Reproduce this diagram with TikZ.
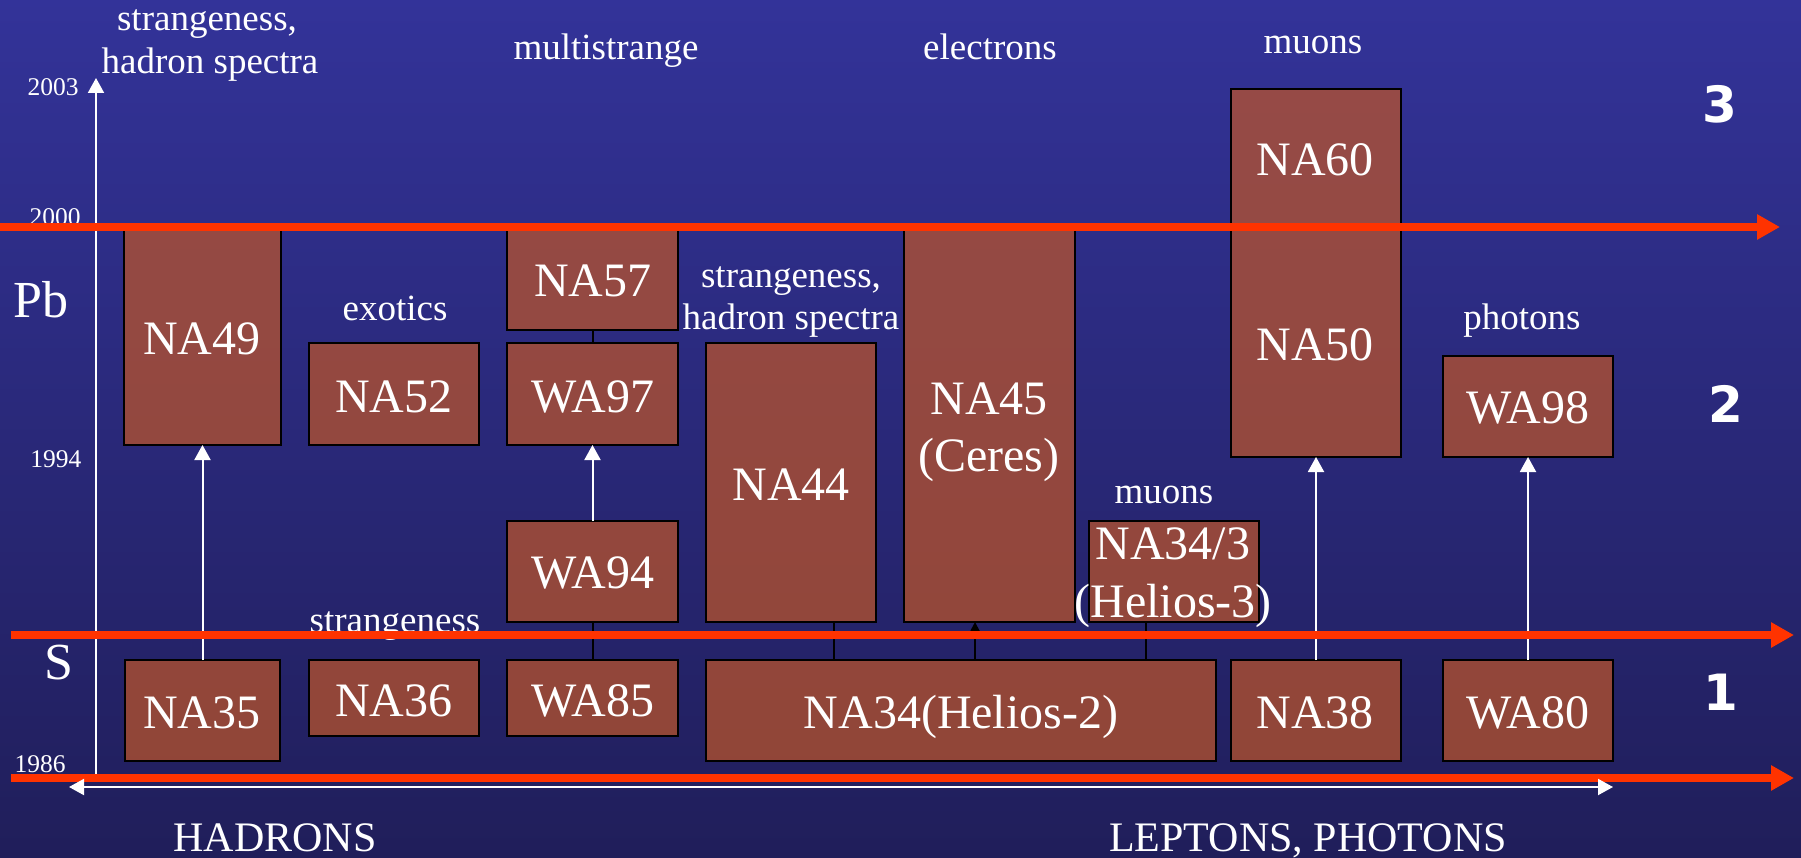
\documentclass[tikz,border=0pt]{standalone}
\usepackage{fontspec}
\setmainfont{Liberation Serif}
\newfontfamily\numfont{DejaVu Sans}
\usetikzlibrary{arrows.meta}
\definecolor{bgtop}{RGB}{51,51,153}
\definecolor{bgbot}{RGB}{32,30,90}
\definecolor{boxred}{RGB}{193,86,39}
\definecolor{redline}{RGB}{255,51,0}
\begin{document}
\begin{tikzpicture}[x=1pt,y=-1pt,
  expbox/.style={draw=black, line width=2pt, fill=boxred, fill opacity=0.7, inner sep=0pt, outer sep=0pt, anchor=north west},
  boxlabel/.style={text=white, anchor=base, inner sep=0pt, font=\fontsize{48}{52}\selectfont},
  small/.style={text=white, anchor=base, inner sep=0pt, font=\fontsize{37}{40}\selectfont},
  big/.style={text=white, anchor=base, inner sep=0pt, font=\fontsize{52}{56}\selectfont},
  yearlbl/.style={text=white, anchor=base, inner sep=0pt, font=\fontsize{25.5}{28}\selectfont},
  grouplbl/.style={text=white, anchor=base, inner sep=0pt, font=\fontsize{42}{46}\selectfont},
  phase/.style={text=white, anchor=base, inner sep=0pt, font=\numfont\bfseries\fontsize{50}{55}\selectfont},
  blink/.style={draw=black, line width=2pt},
  barrow/.style={draw=black, line width=2pt, -{Triangle[length=10pt,width=10pt]}},
  warrow/.style={draw=white, line width=2pt, -{Triangle[length=15pt,width=16pt]}},
  wdouble/.style={draw=white, line width=2pt, {Triangle[length=15pt,width=16pt]}-{Triangle[length=15pt,width=16pt]}},
  redarrow/.style={draw=redline, line width=8pt, -{Triangle[length=23pt,width=24pt]}}
]
\useasboundingbox (0,0) rectangle (1801,858);
\shade[top color=bgtop, bottom color=bgbot] (0,0) rectangle (1801,858);

% time axis
\coordinate (axbot) at (96,775);
\coordinate (axtop) at (96,78);
\draw[warrow] (axbot) -- (axtop);

% boxes: Pb era
\node[expbox, minimum width=157pt, minimum height=217pt] (na49) at (124,228) {};
\node[expbox, minimum width=170pt, minimum height=102pt] (na52) at (309,343) {};
\node[expbox, minimum width=171pt, minimum height=102pt] (na57) at (507,228) {};
\node[expbox, minimum width=171pt, minimum height=102pt] (wa97) at (507,343) {};
\node[expbox, minimum width=171pt, minimum height=101pt] (wa94) at (507,521) {};
\node[expbox, minimum width=170pt, minimum height=279pt] (na44) at (706,343) {};
\node[expbox, minimum width=171pt, minimum height=394pt] (na45) at (904,228) {};
\node[expbox, minimum width=170pt, minimum height=368pt] (na5060) at (1231,89) {};
\node[expbox, minimum width=170pt, minimum height=101pt] (wa98) at (1443,356) {};
\node[expbox, minimum width=170pt, minimum height=101pt] (na343) at (1089,521) {};
% boxes: S era
\node[expbox, minimum width=155pt, minimum height=101pt] (na35) at (125,660) {};
\node[expbox, minimum width=170pt, minimum height=76pt] (na36) at (309,660) {};
\node[expbox, minimum width=171pt, minimum height=76pt] (wa85) at (507,660) {};
\node[expbox, minimum width=510pt, minimum height=101pt] (na34) at (706,660) {};
\node[expbox, minimum width=170pt, minimum height=101pt] (na38) at (1231,660) {};
\node[expbox, minimum width=170pt, minimum height=101pt] (wa80) at (1443,660) {};

% connectors
\draw[warrow] (na35.north) -- (na49.south);
\draw[blink] (wa85.north) -- (wa94.south);
\draw[warrow] (wa94.north) -- (wa97.south);
\draw[blink] (wa97.north) -- (na57.south);
\coordinate (c44) at (834,0);
\coordinate (c45) at (975,0);
\coordinate (c343) at (1146,0);
\draw[blink] (na34.north -| c44) -- (na44.south -| c44);
\draw[barrow] (na34.north -| c45) -- (na45.south -| c45);
\draw[blink] (na34.north -| c343) -- (na343.south -| c343);
\draw[warrow] (na38.north) -- (na5060.south);
\draw[warrow] (wa80.north) -- (wa98.south);

% box labels
\node[boxlabel] (tna49) at (202,355) {NA49};
\node[boxlabel] (tna52) at (394,412) {NA52};
\node[boxlabel] (tna57) at (593,297) {NA57};
\node[boxlabel] (twa97) at (593,412) {WA97};
\node[boxlabel] (twa94) at (593,588) {WA94};
\node[boxlabel] (tna44) at (791,500) {NA44};
\node[boxlabel] (tna45) at (989,414) {NA45};
\node[boxlabel] (tceres) at (989,471) {(Ceres)};
\node[boxlabel] (tna60) at (1315,176) {NA60};
\node[boxlabel] (tna50) at (1315,361) {NA50};
\node[boxlabel] (twa98) at (1528,423) {WA98};
\node[boxlabel] (tna343) at (1173,559) {NA34/3};
\node[boxlabel] (thel3) at (1173,617) {(Helios-3)};
\node[boxlabel] (tna35) at (202,728) {NA35};
\node[boxlabel] (tna36) at (394,716) {NA36};
\node[boxlabel] (twa85) at (593,716) {WA85};
\node[boxlabel] (tna34) at (961,728) {NA34(Helios-2)};
\node[boxlabel] (tna38) at (1315,728) {NA38};
\node[boxlabel] (twa80) at (1528,728) {WA80};

% physics labels
\node[small] (l1a) at (207,31) {strangeness,};
\node[small] (l1b) at (210,74) {hadron spectra};
\node[small] (l2) at (606,60) {multistrange};
\node[small] (l3) at (990,60) {electrons};
\node[small] (l4) at (1313,54) {muons};
\node[small] (l5) at (395,321) {exotics};
\node[small] (l6a) at (791,288) {strangeness,};
\node[small] (l6b) at (791,330) {hadron spectra};
\node[small] (l7) at (1522,330) {photons};
\node[small] (l8) at (1164,503) {muons};
\node[small] (l9) at (395,632) {strangeness};

% years and beams
\node[yearlbl] (y2003) at (53,96) {2003};
\node[yearlbl] (y2000) at (55,226) {2000};
\node[yearlbl] (y1994) at (56,467) {1994};
\node[yearlbl] (y1986) at (40,772) {1986};
\node[big] (pb) at (41,318) {Pb};
\node[big] (sbeam) at (59,679) {S};

% phases
\node[phase] (p3) at (1720,123) {3};
\node[phase] (p2) at (1726,422) {2};
\node[phase] (p1) at (1721,710) {1};

% groups
\node[grouplbl] (had) at (275,851) {HADRONS};
\node[grouplbl] (lep) at (1308,851) {LEPTONS, PHOTONS};

% red time lines
\coordinate (r3a) at (0,227);
\coordinate (r3b) at (1780,227);
\coordinate (r1a) at (11,635);
\coordinate (r1b) at (1794,635);
\coordinate (r0a) at (11,778);
\coordinate (r0b) at (1794,778);
\draw[redarrow] (r3a) -- (r3b);
\draw[redarrow] (r1a) -- (r1b);
\draw[redarrow] (r0a) -- (r0b);

% hadrons / leptons double arrow
\coordinate (dl) at (69,787);
\coordinate (dr) at (1613,787);
\draw[wdouble] (dl) -- (dr);
\end{tikzpicture}
\end{document}
